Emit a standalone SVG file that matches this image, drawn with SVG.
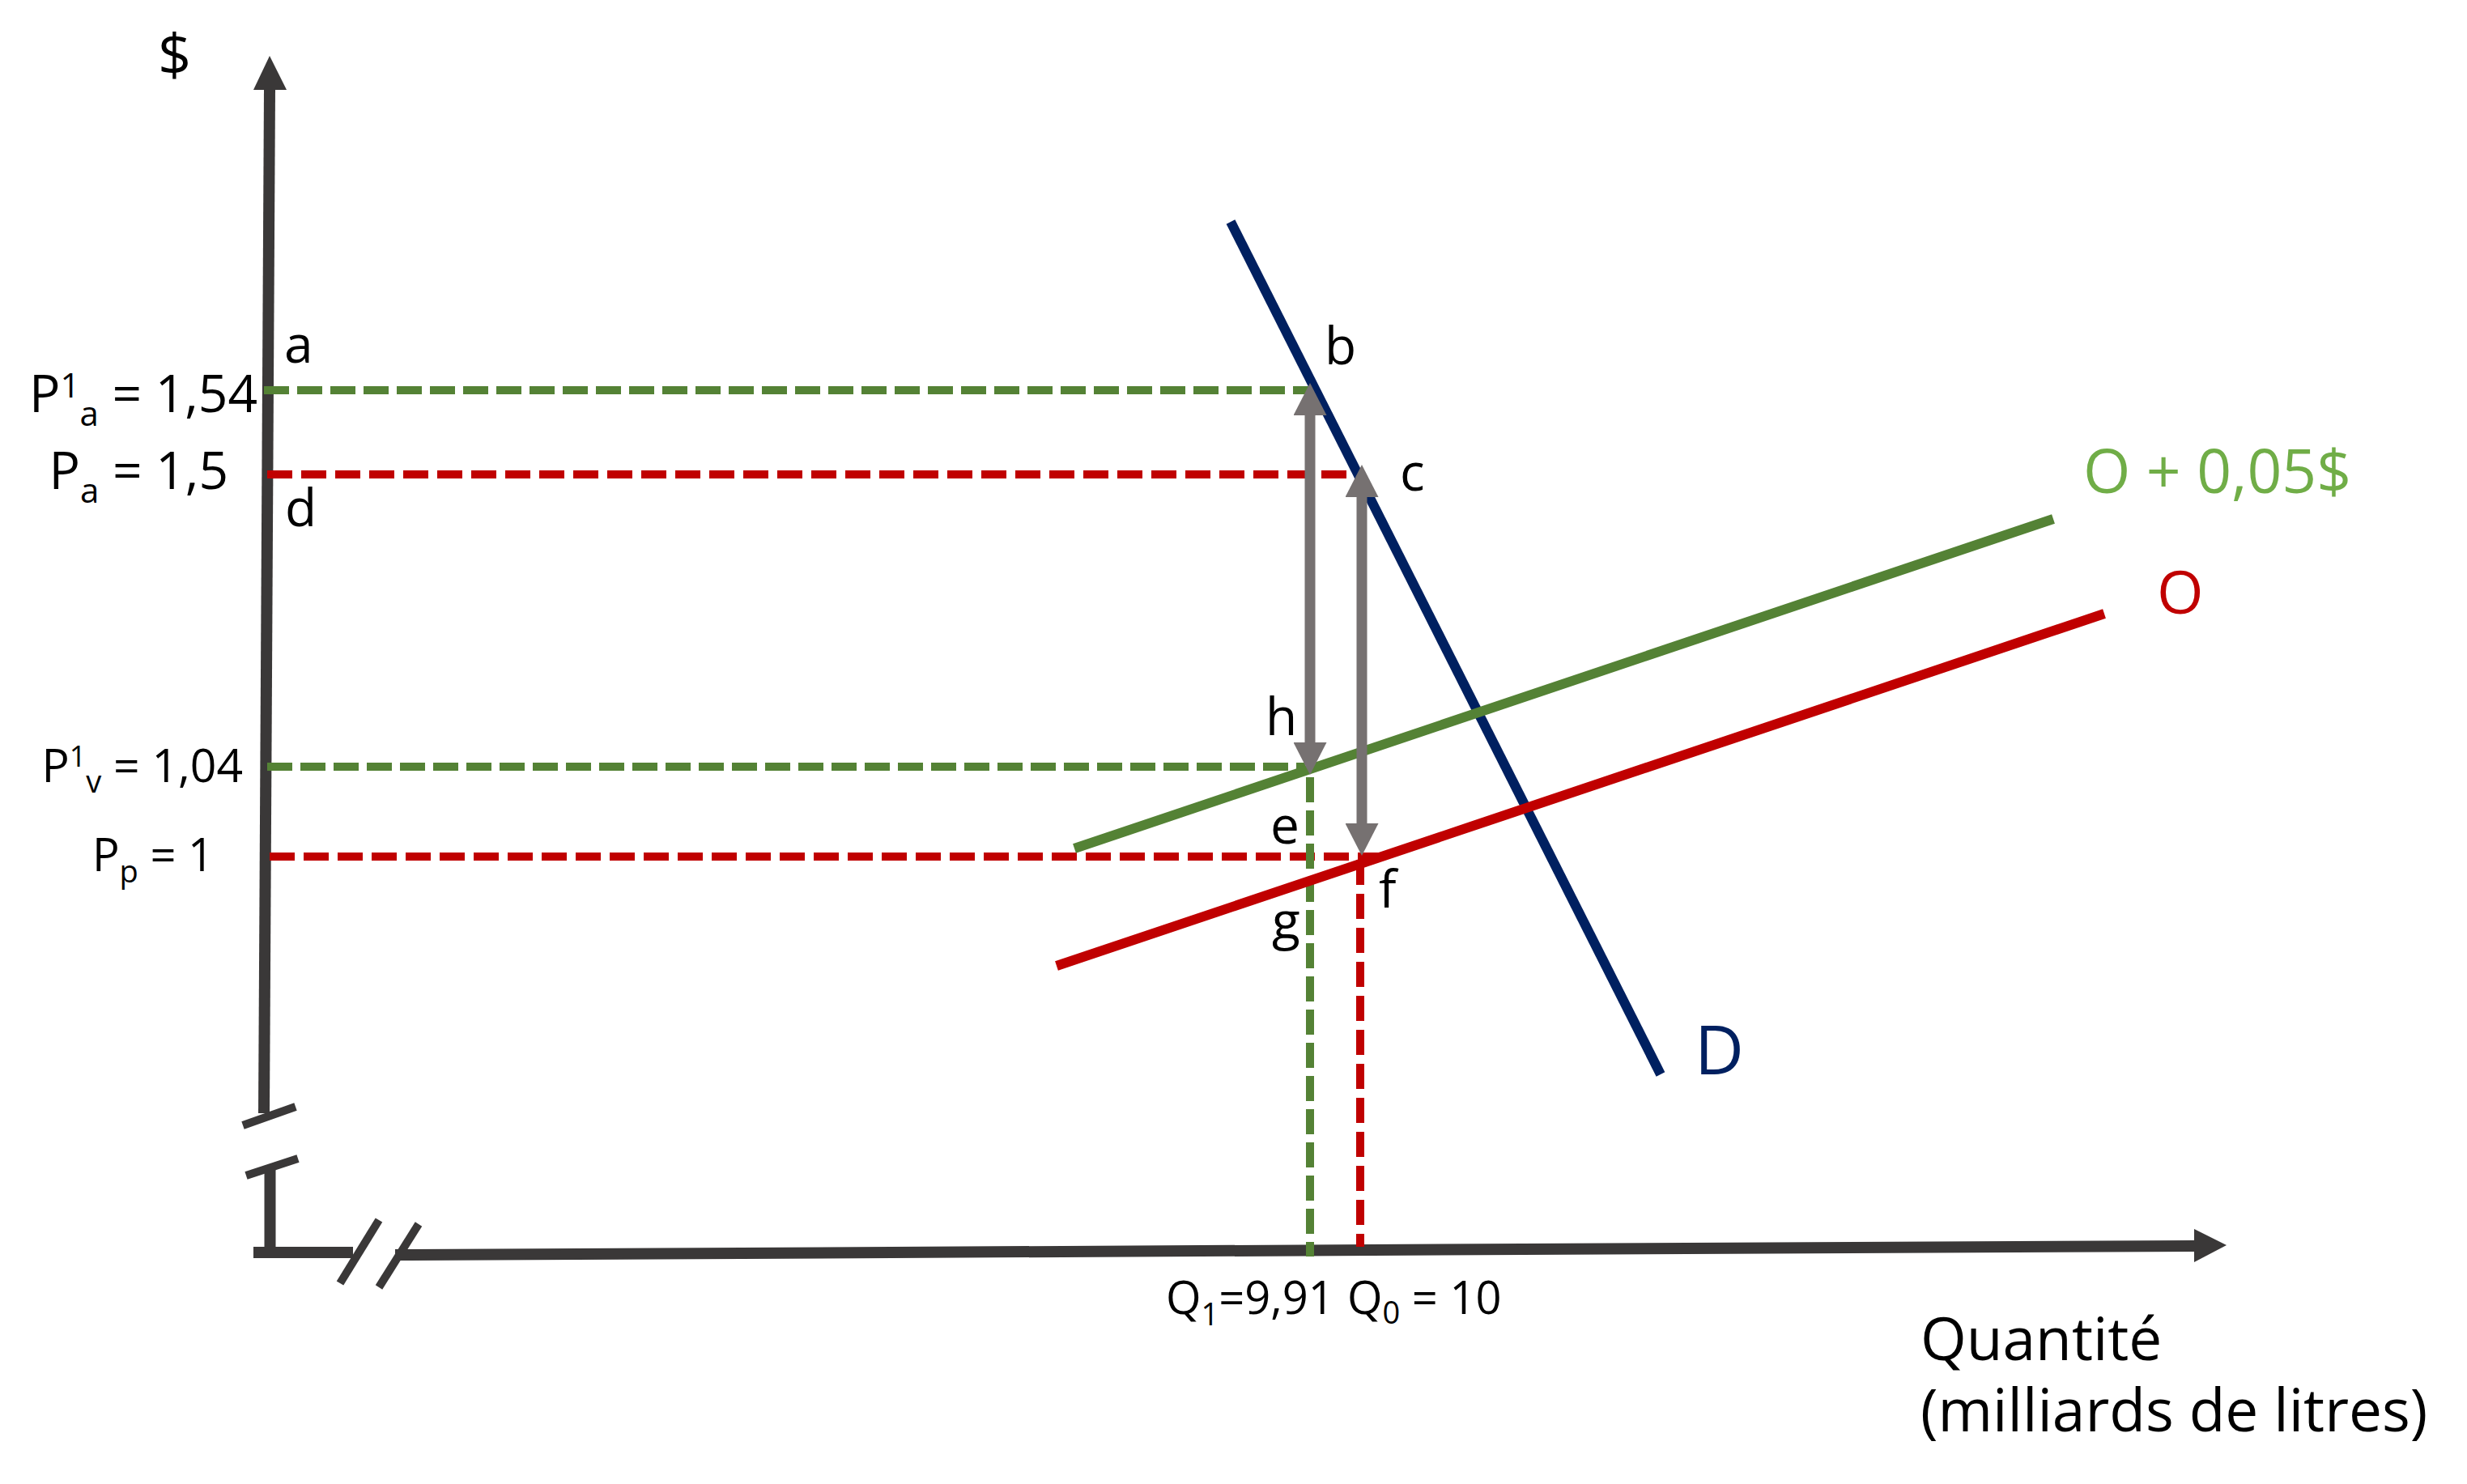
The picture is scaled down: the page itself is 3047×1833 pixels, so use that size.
<svg xmlns="http://www.w3.org/2000/svg" width="3047" height="1833" viewBox="0 0 3047 1833">
<defs>
<style>
.axis{stroke:#3A3838;stroke-width:14;fill:none}
.brk{stroke:#3A3838;stroke-width:10;fill:none}
.gdash{stroke:#548235;stroke-width:10;stroke-dasharray:31 10;fill:none}
.rdash{stroke:#C00000;stroke-width:10;stroke-dasharray:31 11;fill:none}
.curve{stroke-width:12;fill:none}
.shaft{stroke:#767171;stroke-width:13;fill:none;marker-start:url(#gh);marker-end:url(#gh)}
text{font-family:'Open Sans','Noto Sans','Liberation Sans',sans-serif;fill:#000}
.lbl{font-size:64px}
</style>
<marker id="gh" viewBox="0 0 40 41" refX="0" refY="20.5" markerWidth="40" markerHeight="41" markerUnits="userSpaceOnUse" orient="auto-start-reverse">
<polygon points="0,0 40,20.5 0,41" fill="#767171"/>
</marker>
</defs>

<g id="axes">
<line class="axis" x1="333" y1="110" x2="326" y2="1375"/>
<polygon points="333,69 313,111 354,111" fill="#3A3838"/>
<line class="brk" x1="300" y1="1390" x2="365" y2="1367"/>
<line class="brk" x1="304" y1="1452" x2="368" y2="1431"/>
<line class="axis" x1="333.5" y1="1440" x2="333.5" y2="1547"/>
<line class="axis" x1="313" y1="1547" x2="436" y2="1547"/>
<line class="brk" x1="420" y1="1585" x2="468" y2="1507"/>
<line class="brk" x1="468" y1="1590" x2="517" y2="1512"/>
<line class="axis" x1="488" y1="1550" x2="2712" y2="1539"/>
<polygon points="2750,1538 2710,1518 2710,1559" fill="#3A3838"/>
</g>

<g id="guides">
<path class="gdash" d="M326 482 H1617"/>
<path class="rdash" d="M330 586 H1663"/>
<path class="gdash" d="M330 947 H1612"/>
<path class="rdash" d="M333 1058 H1706"/>
<path class="gdash" d="M1618 960 V1552"/>
<path class="rdash" d="M1680 1062 V1540"/>
</g>

<g id="curves">
<line id="curve-D" class="curve" stroke="#002060" stroke-width="11" x1="1520" y1="274" x2="2051" y2="1327"/>
<line id="curve-O-tax" class="curve" stroke="#548235" x1="1327" y1="1048" x2="2536" y2="641"/>
<line id="curve-O" class="curve" stroke="#C00000" x1="1305" y1="1193" x2="2599" y2="758"/>
</g>

<g id="connectors">
<line class="shaft" x1="1618" y1="513" x2="1618" y2="917"/>
<line class="shaft" x1="1682" y1="614" x2="1682" y2="1017"/>
</g>

<g id="labels">
<text x="195" y="93" font-size="72">$</text>
<text class="lbl" x="318" y="509" text-anchor="end">P<tspan font-size="42" dy="-18">1</tspan><tspan font-size="42" dy="35">a</tspan><tspan dy="-17"> = 1,54</tspan></text>
<text class="lbl" x="282" y="604" text-anchor="end">P<tspan font-size="42" dy="17">a</tspan><tspan dy="-17"> = 1,5</tspan></text>
<text font-size="57" x="300" y="966" text-anchor="end">P<tspan font-size="36" dy="-19">1</tspan><tspan font-size="38" dy="32">v</tspan><tspan dy="-13"> = 1,04</tspan></text>
<text font-size="56" x="264" y="1076" text-anchor="end">P<tspan font-size="38" dy="14">p</tspan><tspan dy="-14"> = 1</tspan></text>
<text class="lbl" x="351" y="448">a</text>
<text class="lbl" x="1636" y="450">b</text>
<text class="lbl" x="1729" y="606">c</text>
<text class="lbl" x="352" y="650">d</text>
<text class="lbl" x="1563" y="908">h</text>
<text class="lbl" x="1569" y="1042">e</text>
<text class="lbl" x="1703" y="1121">f</text>
<text class="lbl" x="1571" y="1160">g</text>
<text x="2573" y="609" font-size="75" style="fill:#70AD47">O + 0,05$</text>
<text x="2664" y="758" font-size="74" style="fill:#C00000">O</text>
<text x="2093" y="1327" font-size="84" style="fill:#002060">D</text>
<text font-size="56" x="1440" y="1623">Q<tspan font-size="38" dy="14">1</tspan><tspan dy="-14">=9,91</tspan></text>
<text font-size="56" x="1664" y="1623">Q<tspan font-size="38" dy="12">0</tspan><tspan dy="-12"> = 10</tspan></text>
<text font-size="73" x="2372" y="1680">Quantité<tspan x="2372" dy="88">(milliards de litres)</tspan></text>
</g>
</svg>
